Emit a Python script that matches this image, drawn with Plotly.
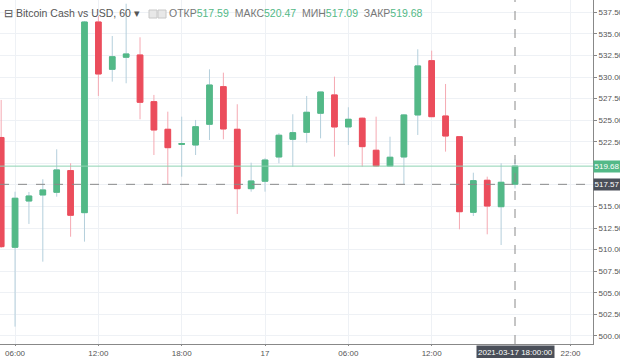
import plotly.graph_objects as go
import pandas as pd

# ---------------- data ----------------
times = pd.date_range("2021-03-16 05:00", "2021-03-17 18:00", freq="h")
opens = [523.00, 510.28, 515.64, 516.34, 516.65, 519.16, 514.29, 536.38, 530.90, 532.30,
         532.56, 527.15, 523.95, 522.20, 522.13, 524.53, 528.89, 523.95, 517.07,
         517.93, 520.74, 522.79, 523.60, 525.81, 527.93, 524.22, 525.23, 521.52, 519.70,
         520.74, 525.61, 531.90, 525.49, 523.09, 514.33, 518.04, 514.98, 517.59]
highs = [527.35, 516.72, 516.69, 518.16, 521.63, 520.01, 536.50, 537.10, 534.76, 538.50,
         534.61, 527.93, 525.99, 525.41, 525.03, 530.90, 530.51, 526.85, 520.08,
         520.60, 523.50, 525.69, 527.81, 528.30, 530.05, 526.50, 525.30, 525.41, 523.09,
         525.70, 533.22, 533.06, 529.20, 523.10, 518.92, 518.46, 520.01, 520.47]
lows = [510.20, 501.08, 512.98, 508.61, 516.14, 511.50, 510.93, 527.81, 529.47, 529.28,
        525.11, 520.97, 517.61, 518.46, 520.97, 522.71, 522.79, 514.14, 516.72,
        516.72, 520.01, 519.62, 522.40, 522.90, 520.78, 522.13, 519.62, 519.60, 519.70,
        517.61, 523.29, 525.40, 521.36, 512.36, 513.90, 511.78, 510.54, 517.09]
closes = [510.35, 515.96, 516.22, 516.92, 519.24, 513.99, 536.38, 530.36, 532.36, 532.68,
          527.08, 523.87, 521.82, 522.30, 524.25, 529.08, 523.99, 517.07, 517.96,
          520.39, 523.26, 523.56, 525.92, 528.27, 524.22, 525.11, 521.94, 519.70, 520.71,
          525.61, 531.29, 525.41, 523.17, 514.40, 518.00, 515.06, 517.81, 519.68]

last_price = 519.68
cross_price = 517.57
cross_time = "2021-03-17 18:00"

y_ticks = [500 + 2.5 * i for i in range(16)]
x_tickvals = ["2021-03-16 06:00", "2021-03-16 12:00", "2021-03-16 18:00", "2021-03-17 00:00",
              "2021-03-17 06:00", "2021-03-17 12:00", "2021-03-17 22:00"]
x_ticktext = ["06:00", "12:00", "18:00", "17", "06:00", "12:00", "22:00"]

legend_title = "Bitcoin Cash vs USD, 60"
ohlc_labels = ["ОТКР", "МАКС", "МИН", "ЗАКР"]
ohlc_values = ["517.59", "520.47", "517.09", "519.68"]

GREEN = "#53b987"
RED = "#eb4d5c"
GREEN_WICK = "#b4cfdc"
RED_WICK = "#f5a9b2"
GRID = "#eef1f5"
FONT = "Liberation Sans"

fig = go.Figure()
# full candles with light wicks
fig.add_trace(go.Candlestick(
    x=times, open=opens, high=highs, low=lows, close=closes,
    increasing=dict(line=dict(color=GREEN_WICK, width=1), fillcolor=GREEN),
    decreasing=dict(line=dict(color=RED_WICK, width=1), fillcolor=RED),
    hoverinfo="skip", showlegend=False))
# bodies overlay (solid outline)
body_hi = [max(o, c) for o, c in zip(opens, closes)]
body_lo = [min(o, c) for o, c in zip(opens, closes)]
fig.add_trace(go.Candlestick(
    x=times, open=opens, high=body_hi, low=body_lo, close=closes,
    increasing=dict(line=dict(color=GREEN, width=1), fillcolor=GREEN),
    decreasing=dict(line=dict(color=RED, width=1), fillcolor=RED),
    hoverinfo="skip", showlegend=False))

# last price line and crosshair
fig.add_hline(y=last_price, line=dict(color="#8fd3b3", width=1))
fig.add_hline(y=cross_price, line=dict(color="#8a8a8a", width=1, dash="dash"))
fig.add_vline(x=cross_time, line=dict(color="#8a8a8a", width=1, dash="dash"))

# right-side price labels
fig.add_annotation(x=1, xref="paper", xanchor="left", y=last_price, yref="y",
                   text=f"{last_price:.2f}", showarrow=False, bgcolor=GREEN,
                   font=dict(color="white", size=8, family=FONT), borderpad=0,
                   width=26, height=11)
fig.add_annotation(x=1, xref="paper", xanchor="left", y=cross_price, yref="y",
                   text=f"{cross_price:.2f}", showarrow=False, bgcolor="#4a4f59",
                   font=dict(color="white", size=8, family=FONT), borderpad=0,
                   width=26, height=11)
# bottom crosshair time label
fig.add_annotation(x=cross_time, xref="x", y=0, yref="paper", yanchor="top", yshift=-1,
                   text="2021-03-17 18:00:00", showarrow=False, bgcolor="#4a4f59",
                   font=dict(color="white", size=8, family=FONT), borderpad=1, height=11)

# legend line
parts = [f"<span style='color:#555'>⊟ {legend_title} ▾</span>"
         + "&nbsp;" * 10]
for lab, val in zip(ohlc_labels, ohlc_values):
    parts.append(f"<span style='color:#777'>{lab}</span><span style='color:{GREEN}'>{val}</span>&nbsp;&nbsp;")
fig.add_annotation(x=0, xref="paper", xanchor="left", y=1, yref="paper", yanchor="top",
                   xshift=2, yshift=-5, text="".join(parts), showarrow=False, align="left",
                   font=dict(size=10.5, family=FONT, color="#555"))
# two small icons
for x0 in (149, 158):
    fig.add_shape(type="rect", xref="paper", yref="paper",
                  x0=x0 / 593, x1=(x0 + 8) / 593, y0=1 - 18 / 344, y1=1 - 10 / 344,
                  line=dict(color="#c8c8c8", width=1), fillcolor="#e8e8e8")

fig.update_layout(
    width=620, height=358,
    margin=dict(l=0, r=27, t=0, b=14, autoexpand=False),
    plot_bgcolor="white", paper_bgcolor="white",
    boxgap=0.42,
    showlegend=False,
    hovermode=False,
    font=dict(family=FONT, size=8, color="#555"),
    xaxis=dict(
        type="date", range=["2021-03-16 04:55", "2021-03-17 23:37"],
        rangeslider=dict(visible=False),
        tickvals=x_tickvals, ticktext=x_ticktext,
        showgrid=True, gridcolor=GRID, gridwidth=1,
        showline=True, linecolor="#888", linewidth=1,
        ticks="outside", ticklen=1, tickcolor="#888",
        tickfont=dict(size=8, color="#555", family=FONT),
        zeroline=False, fixedrange=True,
    ),
    yaxis=dict(
        side="right", range=[499.07, 538.93],
        tickvals=y_ticks, ticktext=[f"{v:.2f}" for v in y_ticks],
        showgrid=True, gridcolor=GRID, gridwidth=1,
        showline=True, linecolor="#888", linewidth=1,
        ticks="outside", ticklen=3, tickcolor="#888",
        tickfont=dict(size=8, color="#555", family=FONT),
        zeroline=False, fixedrange=True,
    ),
)

fig.write_html("out.html", config={"displayModeBar": False},
               post_script="document.body.style.margin='0';document.body.style.overflow='hidden';")
